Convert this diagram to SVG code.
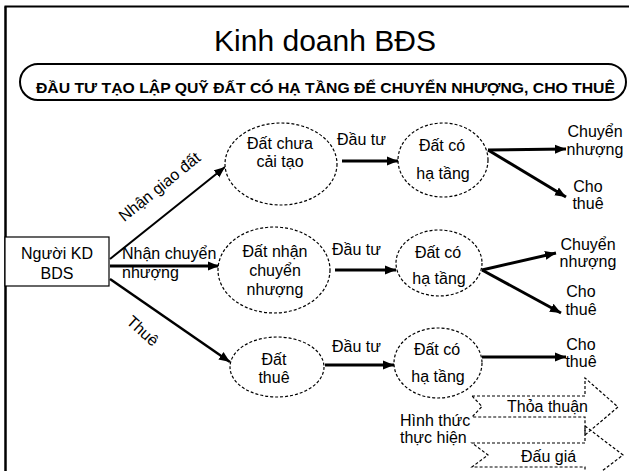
<svg xmlns="http://www.w3.org/2000/svg" width="629" height="471" viewBox="0 0 629 471">
  <style>
    text { font-family: "Liberation Sans", Arial, sans-serif; fill: #000; }
    .lbl { font-size: 16px; }
    .mid { text-anchor: middle; }
    .oval { fill: #fff; stroke: #000; stroke-width: 1.2; stroke-dasharray: 3 2; }
    .blk { fill: none; stroke: #000; stroke-width: 1.2; stroke-dasharray: 3 2; }
    .arw { stroke: #000; fill: none; marker-end: url(#head); }
  </style>
  <defs>
    <marker id="head" markerUnits="userSpaceOnUse" markerWidth="12" markerHeight="10" refX="11" refY="5" orient="auto">
      <path d="M0,0.5 L11,5 L0,9.5 Z" fill="#000"/>
    </marker>
  </defs>

  <!-- page frame (left and top rules) -->
  <g id="frame">
    <line x1="5.5" y1="471" x2="5.5" y2="6.5" stroke="#000" stroke-width="2.5"/>
    <line x1="4.5" y1="6.5" x2="629" y2="6.5" stroke="#000" stroke-width="2"/>
  </g>

  <g id="title">
    <text x="325" y="51" class="mid" font-size="30">Kinh doanh BĐS</text>
  </g>

  <g id="banner">
    <rect x="20" y="64" width="606" height="36" rx="18" ry="18" fill="#fff" stroke="#000" stroke-width="2"/>
    <text x="36" y="93" font-size="15" font-weight="bold" textLength="579" lengthAdjust="spacingAndGlyphs">ĐẦU TƯ TẠO LẬP QUỸ ĐẤT CÓ HẠ TẦNG ĐỂ CHUYỂN NHƯỢNG, CHO THUÊ</text>
  </g>

  <!-- connectors -->
  <g id="connectors">
    <line class="arw" x1="110" y1="259" x2="225" y2="167" stroke-width="2"/>
    <line class="arw" x1="110" y1="266" x2="219" y2="266" stroke-width="3"/>
    <line class="arw" x1="110" y1="279" x2="230" y2="362" stroke-width="2.5"/>
    <line class="arw" x1="342" y1="161" x2="398" y2="161" stroke-width="3"/>
    <line class="arw" x1="335" y1="270" x2="396" y2="270" stroke-width="3"/>
    <line class="arw" x1="325" y1="365" x2="394" y2="365" stroke-width="3"/>
    <line class="arw" x1="488" y1="150" x2="566" y2="149" stroke-width="3"/>
    <line class="arw" x1="488" y1="150" x2="566" y2="197" stroke-width="3"/>
    <line class="arw" x1="482" y1="270" x2="556" y2="253" stroke-width="3"/>
    <line class="arw" x1="482" y1="270" x2="561" y2="313" stroke-width="3"/>
    <line class="arw" x1="482" y1="357" x2="566" y2="357" stroke-width="3"/>

    <text class="lbl mid" x="163" y="191" transform="rotate(-39 163 191)">Nhận giao đất</text>
    <text class="lbl" x="122" y="259">Nhận chuyển</text>
    <text class="lbl" x="122" y="278">nhượng</text>
    <text class="lbl mid" x="139" y="335" transform="rotate(42 139 335)">Thuê</text>
    <text class="lbl" x="337" y="145">Đầu tư</text>
    <text class="lbl" x="332" y="255">Đầu tư</text>
    <text class="lbl" x="332" y="352">Đầu tư</text>
  </g>

  <g id="nguoi-kd">
    <rect x="5" y="237" width="104" height="49" fill="#fff" stroke="#000" stroke-width="1.2"/>
    <text class="lbl mid" x="57" y="259">Người KD</text>
    <text class="lbl mid" x="57" y="279">BDS</text>
  </g>

  <g id="dat-chua-cai-tao">
    <ellipse class="oval" cx="281" cy="164" rx="56" ry="41"/>
    <text class="lbl mid" x="280" y="149">Đất chưa</text>
    <text class="lbl mid" x="280" y="167">cải tạo</text>
  </g>

  <g id="dat-nhan-chuyen-nhuong">
    <ellipse class="oval" cx="274" cy="270" rx="56" ry="43"/>
    <text class="lbl mid" x="275" y="257">Đất nhận</text>
    <text class="lbl mid" x="275" y="276">chuyển</text>
    <text class="lbl mid" x="275" y="295">nhượng</text>
  </g>

  <g id="dat-thue">
    <ellipse class="oval" cx="277" cy="367" rx="47" ry="30"/>
    <text class="lbl mid" x="274" y="365">Đất</text>
    <text class="lbl mid" x="274" y="383">thuê</text>
  </g>

  <g id="ha-tang-1">
    <ellipse class="oval" cx="443" cy="160" rx="45" ry="37"/>
    <text class="lbl mid" x="442" y="151">Đất có</text>
    <text class="lbl mid" x="443" y="179">hạ tầng</text>
  </g>

  <g id="ha-tang-2">
    <ellipse class="oval" cx="439" cy="263" rx="43" ry="33"/>
    <text class="lbl mid" x="438" y="258">Đất có</text>
    <text class="lbl mid" x="439" y="284">hạ tầng</text>
  </g>

  <g id="ha-tang-3">
    <ellipse class="oval" cx="438" cy="363" rx="44" ry="35"/>
    <text class="lbl mid" x="437" y="355">Đất có</text>
    <text class="lbl mid" x="438" y="382">hạ tầng</text>
  </g>

  <g id="ket-qua-1">
    <text class="lbl mid" x="595" y="137">Chuyển</text>
    <text class="lbl mid" x="595" y="155">nhượng</text>
    <text class="lbl mid" x="588" y="192">Cho</text>
    <text class="lbl mid" x="588" y="209">thuê</text>
  </g>

  <g id="ket-qua-2">
    <text class="lbl mid" x="588" y="250">Chuyển</text>
    <text class="lbl mid" x="588" y="267">nhượng</text>
    <text class="lbl mid" x="581" y="297">Cho</text>
    <text class="lbl mid" x="581" y="315">thuê</text>
  </g>

  <g id="ket-qua-3">
    <text class="lbl mid" x="581" y="350">Cho</text>
    <text class="lbl mid" x="581" y="367">thuê</text>
  </g>

  <g id="hinh-thuc">
    <text class="lbl" x="400" y="426">Hình thức</text>
    <text class="lbl" x="400" y="443">thực hiện</text>
  </g>

  <g id="thoa-thuan">
    <path class="blk" d="M472,396 L585,396 L585,378 L618,407 L585,435 L585,417 L472,417 L482,406.5 Z"/>
    <text class="lbl" x="507" y="412">Thỏa thuận</text>
  </g>

  <g id="dau-gia">
    <path class="blk" d="M472,443 L585,443 L585,426 L623,455 L585,484 L585,467 L472,467 L488,455 Z"/>
    <text class="lbl" x="521" y="462">Đấu giá</text>
  </g>
</svg>
